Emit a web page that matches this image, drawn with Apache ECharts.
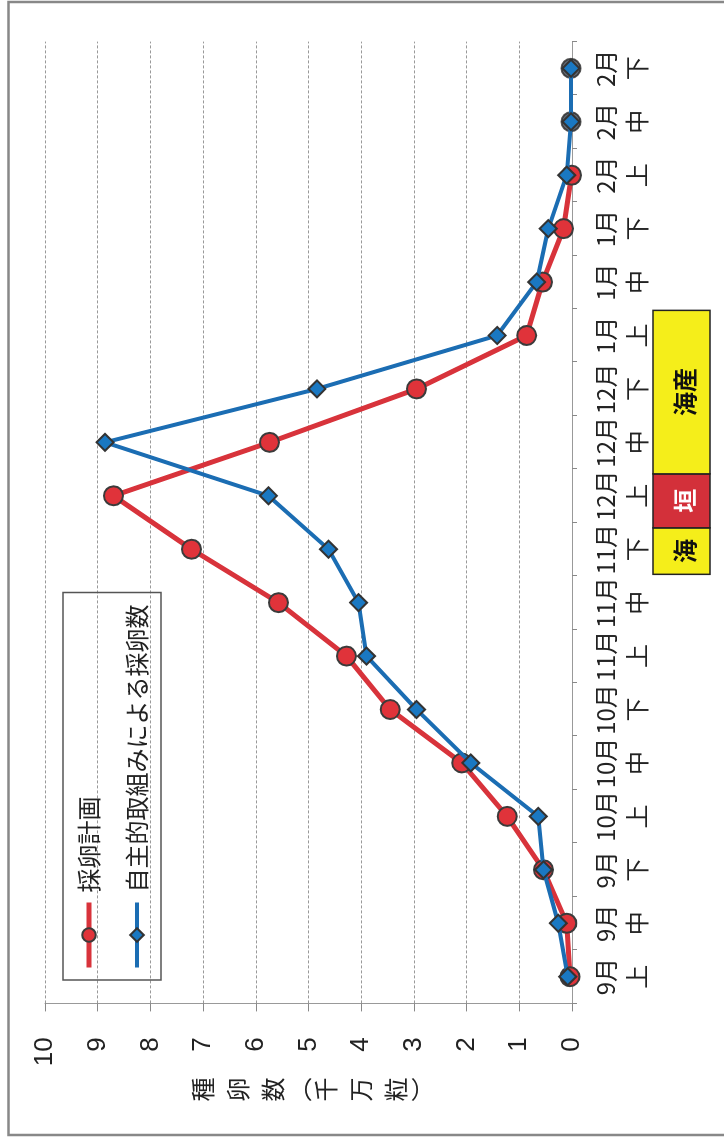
<!DOCTYPE html>
<html>
<head>
<meta charset="utf-8">
<script src="https://cdn.jsdelivr.net/npm/echarts@6/dist/echarts.min.js"></script>
<style>
  html, body { margin: 0; padding: 0; background: #fff; overflow: hidden; width: 724px; height: 1145px; }
  #wrap { position: absolute; left: 0; top: 0; width: 1145px; height: 724px;
          transform-origin: 0 0; transform: translate(0px, 1145px) rotate(-90deg); }
  #chart { width: 1145px; height: 724px; }
</style>
</head>
<body>
<div id="wrap"><div id="chart"></div></div>
<script>
// ---- data ----
const categories = ['9月\n上','9月\n中','9月\n下','10月\n上','10月\n中','10月\n下','11月\n上','11月\n中','11月\n下',
                    '12月\n上','12月\n中','12月\n下','1月\n上','1月\n中','1月\n下','2月\n上','2月\n中','2月\n下'];
const planName = '採卵計画';
const ownName = '自主的取組みによる採卵数';
const planValues = [0.04, 0.10, 0.54, 1.23, 2.09, 3.45, 4.28, 5.57, 7.22, 8.70, 5.74, 2.95, 0.86, 0.56, 0.16, 0.01, null, null];
const ownValues  = [0.08, 0.26, 0.54, 0.64, 1.92, 2.95, 3.90, 4.05, 4.62, 5.76, 8.86, 4.84, 1.42, 0.67, 0.45, 0.10, 0.02, 0.02];
const darkMarkValues = [null, null, null, null, null, null, null, null, null, null, null, null, null, null, null, null, 0.02, 0.02];
const valueTicks = [0, 1, 2, 3, 4, 5, 6, 7, 8, 9, 10];
const axisTitle = '{a|種}\n{a|卵}\n{a|数}\n{p|︵}\n{a|千}\n{a|万}\n{a|粒}\n{p|︶}';
// annotation bar: [label, first category index, last category index, fill, text colour]
const seasonBoxes = [
  ['海', 8, 8, '#f5ee1a', '#111'],
  ['垣', 9, 9, '#d3303a', '#fff'],
  ['海産', 10, 12, '#f5ee1a', '#111']
];

const FONT = "'Noto Sans CJK JP', 'Noto Sans', sans-serif";
const chart = echarts.init(document.getElementById('chart'), null, { renderer: 'canvas' });

const option = {
  animation: false,
  backgroundColor: '#fff',
  grid: { left: 141.6, right: 41.6, top: 45, bottom: 152, containLabel: false },
  legend: {
    orient: 'vertical', left: 165, top: 63,
    padding: [14, 12, 12, 10], itemGap: 24, itemWidth: 65, itemHeight: 17,
    borderColor: '#555', borderWidth: 1.5,
    textStyle: { fontSize: 24, fontFamily: FONT, color: '#222', padding: [0, 0, 0, 5] },
    data: [
      { name: planName, lineStyle: { width: 5 } },
      { name: ownName, lineStyle: { width: 4 } }
    ]
  },
  xAxis: {
    type: 'category', data: categories, boundaryGap: true,
    axisLine: { lineStyle: { color: '#999', width: 1 } },
    axisTick: { show: true, length: 5, inside: false, lineStyle: { color: '#888' } },
    axisLabel: { interval: 0, hideOverlap: false, margin: 18, fontSize: 24, lineHeight: 31,
                 fontFamily: FONT, color: '#222' },
    splitLine: { show: false }
  },
  yAxis: {
    type: 'value', min: 0, max: 10, interval: 1,
    name: axisTitle, nameLocation: 'middle', nameRotate: 0, nameGap: 74,
    nameTextStyle: {
      fontFamily: FONT, color: '#222',
      rich: { a: { fontSize: 24, lineHeight: 35, fontFamily: FONT, color: '#222' },
              p: { fontSize: 24, lineHeight: 18, fontFamily: FONT, color: '#222' } }
    },
    axisLine: { show: true, lineStyle: { color: '#999', width: 1 } },
    axisTick: { show: true, length: 8, lineStyle: { color: '#888' } },
    axisLabel: { margin: 34, fontSize: 26, fontFamily: "'Liberation Sans', Arial, sans-serif", color: '#222',
                 formatter: v => valueTicks.includes(v) ? String(v) : '' },
    splitLine: { show: true, lineStyle: { color: '#999', type: [3, 2], width: 1 } }
  },
  series: [
    {
      name: planName, type: 'line', data: planValues,
      symbol: 'circle', symbolSize: 19, connectNulls: false,
      lineStyle: { color: '#d8333b', width: 5 },
      itemStyle: { color: '#e0333a', borderColor: '#3b3b3b', borderWidth: 2 },
      z: 2
    },
    {
      name: 'dark', type: 'scatter', data: darkMarkValues,
      symbol: 'circle', symbolSize: 19,
      itemStyle: { color: '#3d4652', borderColor: '#2a2a2a', borderWidth: 2 },
      z: 3
    },
    {
      name: ownName, type: 'line', data: ownValues,
      symbol: 'diamond', symbolSize: 17,
      lineStyle: { color: '#1b6db3', width: 4 },
      itemStyle: { color: '#1a78c2', borderColor: '#333', borderWidth: 2 },
      z: 4
    }
  ]
};
chart.setOption(option);

// annotation boxes placed via the category axis scale
const cx = i => chart.convertToPixel({ xAxisIndex: 0 }, categories[i]);
const band = cx(1) - cx(0);
const bounds = [cx(8) - 0.47 * band, cx(8) + 0.40 * band, cx(9) + 0.41 * band, cx(12) + 0.47 * band];
const boxTop = 653, boxH = 57;
const graphics = [
  { type: 'rect', shape: { x: 10, y: 8.5, width: 1133, height: 730 }, style: { fill: null, stroke: '#888', lineWidth: 2.5 }, silent: true }
];
seasonBoxes.forEach((b, k) => {
  const x0 = bounds[k], x1 = bounds[k + 1];
  graphics.push({ type: 'rect', shape: { x: x0, y: boxTop, width: x1 - x0, height: boxH },
                  style: { fill: b[3], stroke: '#222', lineWidth: 1.5 }, silent: true });
  graphics.push({ type: 'text', x: (x0 + x1) / 2, y: boxTop + boxH / 2 + 3,
                  style: { text: b[0], fill: b[4], font: 'bold 24px ' + FONT, textAlign: 'center', textVerticalAlign: 'middle' },
                  silent: true });
});
chart.setOption({ graphic: graphics });
</script>
</body>
</html>
